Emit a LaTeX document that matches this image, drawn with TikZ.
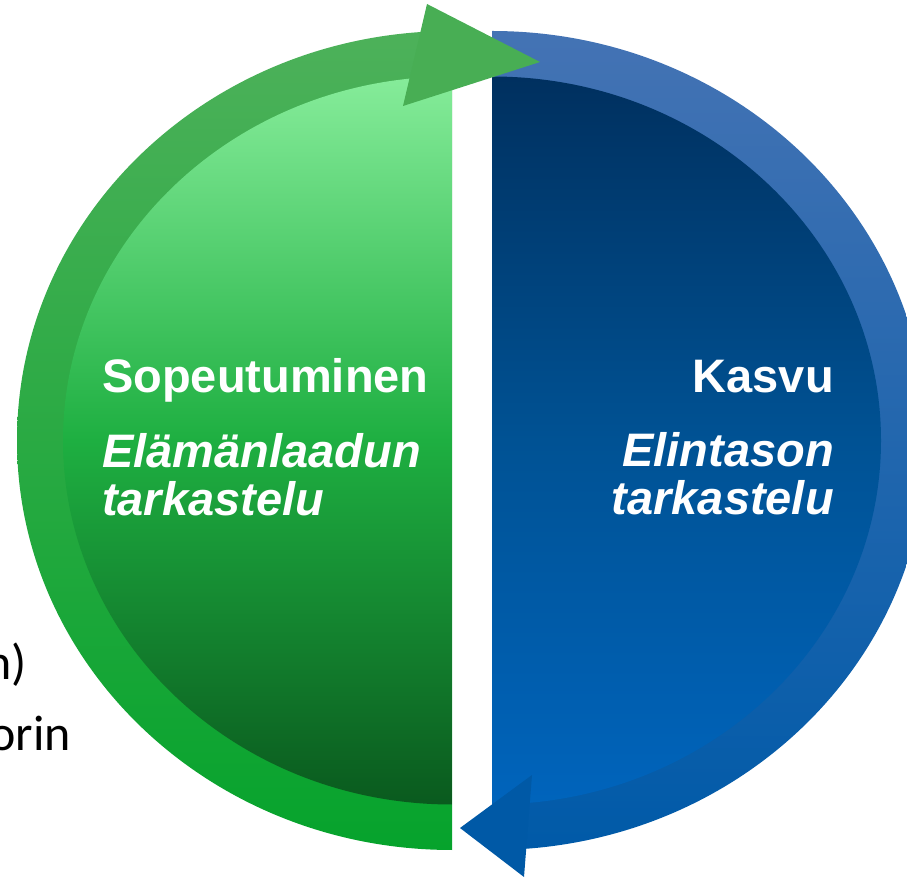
\documentclass[tikz,border=0pt]{standalone}
\usepackage{fontspec}
\newfontfamily\arialfont{Liberation Sans}
\newfontfamily\slidefont{Carlito}
\definecolor{ringgreentop}{RGB}{77,177,90}
\definecolor{ringgreenbot}{RGB}{6,163,44}
\definecolor{diskgreentop}{RGB}{134,236,154}
\definecolor{diskgreenmid}{RGB}{30,175,65}
\definecolor{diskgreenbot}{RGB}{10,90,30}
\definecolor{arrowgreen}{RGB}{72,174,84}
\definecolor{ringbluetop}{RGB}{68,115,180}
\definecolor{ringbluebot}{RGB}{0,90,168}
\definecolor{diskbluetop}{RGB}{0,48,95}
\definecolor{diskbluemid}{RGB}{0,82,148}
\definecolor{diskbluebot}{RGB}{0,100,188}
\definecolor{arrowblue}{RGB}{0,89,166}

\begin{document}
\begin{tikzpicture}[x=1pt, y=1pt]
%% the figure is drawn in picture units (1 unit = 1 pixel of the slide, y upwards)
%% the two halves are half ellipses, each with a ring and an inner disk
%% the arrow heads are drawn last so that they lie on top of both halves
\tikzstyle{title}=[text=white,inner sep=0pt,font=\arialfont\bfseries\fontsize{47}{48}\selectfont]
\tikzstyle{subtitle}=[text=white,inner sep=0pt,font=\arialfont\bfseries\itshape\fontsize{47}{48}\selectfont]
\tikzstyle{slidetext}=[text=black,inner sep=0pt,font=\slidefont\fontsize{50}{60}\selectfont]
\tikzstyle{greenring}=[top color=ringgreentop,bottom color=ringgreenbot]
\tikzstyle{greendisk}=[top color=diskgreentop,bottom color=diskgreenbot,middle color=diskgreenmid]
\tikzstyle{bluering}=[top color=ringbluetop,bottom color=ringbluebot]
\tikzstyle{bluedisk}=[top color=diskbluetop,bottom color=diskbluebot,middle color=diskbluemid]
\useasboundingbox (0,0) rectangle (907,878);
%% slide text behind the figure %%
\node[slidetext,anchor=base east] at (27,198) (SlideN) {n)};
\node[slidetext,anchor=base east] at (71,128) (SlideOrin) {orin};
%% left half (green) %%
\shade[greenring] (452,847) arc[start angle=90,end angle=270,x radius=435,y radius=409.5] -- cycle;
\shade[greendisk] (452,801.5) arc[start angle=90,end angle=270,x radius=389,y radius=364] -- cycle;
%% right half (blue) %%
\shade[bluering] (492,847) arc[start angle=90,end angle=-90,x radius=435,y radius=409.5] -- cycle;
\shade[bluedisk] (492,801.5) arc[start angle=90,end angle=-90,x radius=389,y radius=364] -- cycle;
%% arrow heads %%
\fill[arrowgreen] (427,874) -- (540,816) -- (403,772) -- cycle;
\fill[arrowblue] (532,103) -- (460,50) -- (524,1) -- cycle;
%% labels of the left half
\node[title,anchor=base west] at (102,485) (Sopeutuminen) {Sopeutuminen};
\node[subtitle,anchor=base west] at (102,410) (ElamanLaadun) {Elämänlaadun};
\node[subtitle,anchor=base west] at (102,362) (TarkasteluL) {tarkastelu};
%% labels of the right half
\node[title,anchor=base east] at (834,485) (Kasvu) {Kasvu};
\node[subtitle,anchor=base east] at (834,411) (Elintason) {Elintason};
\node[subtitle,anchor=base east] at (834,363) (TarkasteluR) {tarkastelu};
\end{tikzpicture}
\end{document}
